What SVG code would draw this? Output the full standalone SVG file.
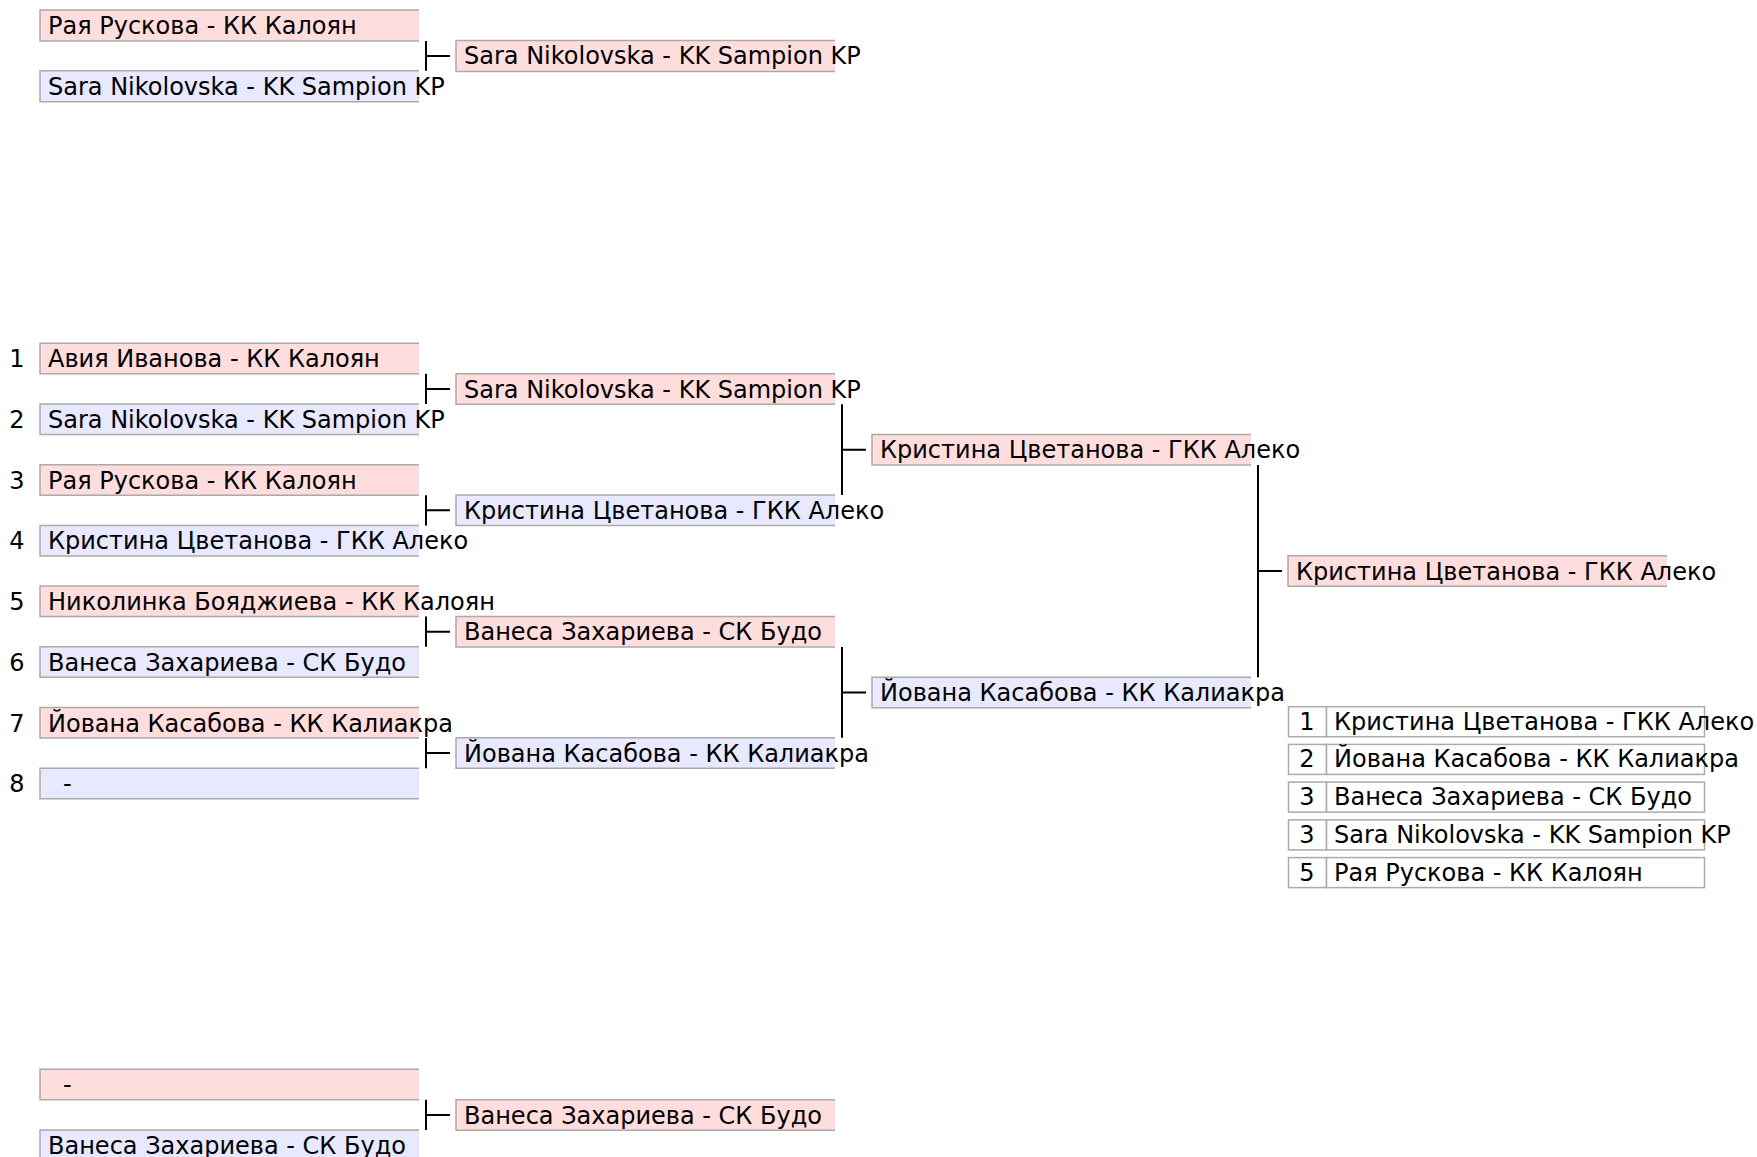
<svg xmlns="http://www.w3.org/2000/svg" width="1757" height="1157" viewBox="0 0 1757 1157">
<style>
text{font-family:"DejaVu Sans","Noto Sans",sans-serif;font-size:24px;fill:#000}
.p{fill:#ffdddd}
.b{fill:#e8e8ff}
.bd{fill:none;stroke:#aaa;stroke-width:1.5}
.cell{fill:#fff;stroke:#aaa;stroke-width:1.5}
.c{fill:none;stroke:#000;stroke-width:2}
.n{text-anchor:middle}
</style>
<rect width="1757" height="1157" fill="#fff"/>

<!-- top bracket -->
<g id="t1a"><rect class="p" x="40" y="10" width="379" height="31"/><path class="bd" d="M419,10H40V41H419"/><text x="48" y="34">Рая Рускова - КК Калоян</text></g>
<g id="t1b"><rect class="b" x="40" y="70.7" width="379" height="31"/><path class="bd" d="M419,70.7H40V101.7H419"/><text x="48" y="94.7">Sara Nikolovska - KK Sampion KP</text></g>
<g id="t2"><rect class="p" x="456" y="40.4" width="379" height="31"/><path class="bd" d="M835,40.4H456V71.4H835"/><text x="464" y="64.4">Sara Nikolovska - KK Sampion KP</text></g>

<!-- main bracket round 1 -->
<g id="s1"><text class="n" x="17" y="367.3">1</text></g>
<g id="s2"><text class="n" x="17" y="428">2</text></g>
<g id="s3"><text class="n" x="17" y="488.7">3</text></g>
<g id="s4"><text class="n" x="17" y="549.4">4</text></g>
<g id="s5"><text class="n" x="17" y="610.1">5</text></g>
<g id="s6"><text class="n" x="17" y="670.8">6</text></g>
<g id="s7"><text class="n" x="17" y="731.5">7</text></g>
<g id="s8"><text class="n" x="17" y="792.2">8</text></g>

<g id="r1m1"><rect class="p" x="40" y="343.3" width="379" height="30.5"/><path class="bd" d="M419,343.3H40V373.8H419"/><text x="48" y="367.3">Авия Иванова - КК Калоян</text></g>
<g id="r1m2"><rect class="b" x="40" y="404" width="379" height="30.5"/><path class="bd" d="M419,404H40V434.5H419"/><text x="48" y="428">Sara Nikolovska - KK Sampion KP</text></g>
<g id="r1m3"><rect class="p" x="40" y="464.7" width="379" height="30.5"/><path class="bd" d="M419,464.7H40V495.2H419"/><text x="48" y="488.7">Рая Рускова - КК Калоян</text></g>
<g id="r1m4"><rect class="b" x="40" y="525.4" width="379" height="30.5"/><path class="bd" d="M419,525.4H40V555.9H419"/><text x="48" y="549.4">Кристина Цветанова - ГКК Алеко</text></g>
<g id="r1m5"><rect class="p" x="40" y="586.1" width="379" height="30.5"/><path class="bd" d="M419,586.1H40V616.6H419"/><text x="48" y="610.1">Николинка Бояджиева - КК Калоян</text></g>
<g id="r1m6"><rect class="b" x="40" y="646.8" width="379" height="30.5"/><path class="bd" d="M419,646.8H40V677.3H419"/><text x="48" y="670.8">Ванеса Захариева - СК Будо</text></g>
<g id="r1m7"><rect class="p" x="40" y="707.5" width="379" height="30.5"/><path class="bd" d="M419,707.5H40V738H419"/><text x="48" y="731.5">Йована Касабова - КК Калиакра</text></g>
<g id="r1m8"><rect class="b" x="40" y="768.2" width="379" height="30.5"/><path class="bd" d="M419,768.2H40V798.7H419"/><text x="63" y="792.2">-</text></g>

<!-- round 2 -->
<g id="r2m1"><rect class="p" x="456" y="373.7" width="379" height="30.5"/><path class="bd" d="M835,373.7H456V404.2H835"/><text x="464" y="397.7">Sara Nikolovska - KK Sampion KP</text></g>
<g id="r2m2"><rect class="b" x="456" y="495" width="379" height="30.5"/><path class="bd" d="M835,495H456V525.5H835"/><text x="464" y="519">Кристина Цветанова - ГКК Алеко</text></g>
<g id="r2m3"><rect class="p" x="456" y="616.4" width="379" height="30.5"/><path class="bd" d="M835,616.4H456V646.9H835"/><text x="464" y="640.4">Ванеса Захариева - СК Будо</text></g>
<g id="r2m4"><rect class="b" x="456" y="737.8" width="379" height="30.5"/><path class="bd" d="M835,737.8H456V768.3H835"/><text x="464" y="761.8">Йована Касабова - КК Калиакра</text></g>

<!-- round 3 -->
<g id="r3m1"><rect class="p" x="872" y="434.4" width="379" height="30.5"/><path class="bd" d="M1251,434.4H872V464.9H1251"/><text x="880" y="458.4">Кристина Цветанова - ГКК Алеко</text></g>
<g id="r3m2"><rect class="b" x="872" y="677.2" width="379" height="30.5"/><path class="bd" d="M1251,677.2H872V707.7H1251"/><text x="880" y="701.2">Йована Касабова - КК Калиакра</text></g>

<!-- final -->
<g id="r4"><rect class="p" x="1288" y="555.8" width="379" height="30.5"/><path class="bd" d="M1667,555.8H1288V586.3H1667"/><text x="1296" y="579.8">Кристина Цветанова - ГКК Алеко</text></g>

<!-- standings -->
<g id="res1"><rect class="cell" x="1288.5" y="706.7" width="38" height="30"/><rect class="cell" x="1326.5" y="706.7" width="378" height="30"/><text class="n" x="1307" y="729.7">1</text><text x="1334" y="729.7">Кристина Цветанова - ГКК Алеко</text></g>
<g id="res2"><rect class="cell" x="1288.5" y="744.4" width="38" height="30"/><rect class="cell" x="1326.5" y="744.4" width="378" height="30"/><text class="n" x="1307" y="767.4">2</text><text x="1334" y="767.4">Йована Касабова - КК Калиакра</text></g>
<g id="res3"><rect class="cell" x="1288.5" y="782.1" width="38" height="30"/><rect class="cell" x="1326.5" y="782.1" width="378" height="30"/><text class="n" x="1307" y="805.1">3</text><text x="1334" y="805.1">Ванеса Захариева - СК Будо</text></g>
<g id="res4"><rect class="cell" x="1288.5" y="819.9" width="38" height="30"/><rect class="cell" x="1326.5" y="819.9" width="378" height="30"/><text class="n" x="1307" y="842.9">3</text><text x="1334" y="842.9">Sara Nikolovska - KK Sampion KP</text></g>
<g id="res5"><rect class="cell" x="1288.5" y="857.6" width="38" height="30"/><rect class="cell" x="1326.5" y="857.6" width="378" height="30"/><text class="n" x="1307" y="880.6">5</text><text x="1334" y="880.6">Рая Рускова - КК Калоян</text></g>

<!-- bottom bracket -->
<g id="b1a"><rect class="p" x="40" y="1069.3" width="379" height="30.5"/><path class="bd" d="M419,1069.3H40V1099.8H419"/><text x="63" y="1093.3">-</text></g>
<g id="b1b"><rect class="b" x="40" y="1130" width="379" height="30.5"/><path class="bd" d="M419,1130H40V1160.5H419"/><text x="48" y="1154">Ванеса Захариева - СК Будо</text></g>
<g id="b2"><rect class="p" x="456" y="1099.7" width="379" height="30.5"/><path class="bd" d="M835,1099.7H456V1130.2H835"/><text x="464" y="1123.7">Ванеса Захариева - СК Будо</text></g>

<!-- connectors -->
<g id="connectors">
<path class="c" d="M426,41V70.7M426,56H450"/>
<path class="c" d="M426,373.8V404M426,389H450"/>
<path class="c" d="M426,495.2V525.4M426,510.3H450"/>
<path class="c" d="M426,616.6V646.8M426,631.7H450"/>
<path class="c" d="M426,738V768.2M426,753H450"/>
<path class="c" d="M842,404.2V495M842,449.7H866"/>
<path class="c" d="M842,646.9V737.8M842,692.5H866"/>
<path class="c" d="M1258,464.9V677.2M1258,571H1282"/>
<path class="c" d="M426,1099.8V1130M426,1115H450"/>
</g>
</svg>
